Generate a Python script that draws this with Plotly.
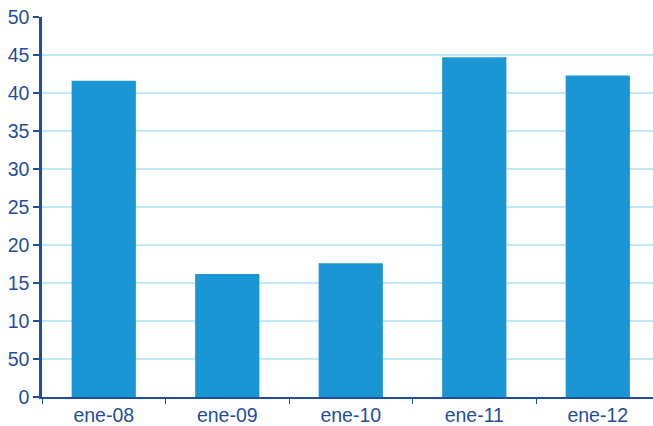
import plotly.graph_objects as go

categories = ["ene-08", "ene-09", "ene-10", "ene-11", "ene-12"]
values = [41.6, 16.2, 17.6, 44.7, 42.3]
ytick_vals = [0, 5, 10, 15, 20, 25, 30, 35, 40, 45, 50]
ytick_text = ["0", "50", "10", "15", "20", "25", "30", "35", "40", "45", "50"]

axis_color = "#1f4f9c"
font_family = "Liberation Sans, Arial, sans-serif"
fig = go.Figure(go.Bar(x=categories, y=values, marker=dict(color="#1b96d4", line=dict(width=0)), width=0.52))

fig.update_layout(
    width=653, height=426,
    margin=dict(l=42, r=0, t=17, b=29, pad=0),
    plot_bgcolor="white", paper_bgcolor="white",
    showlegend=False,
    font=dict(family=font_family, size=19.5, color=axis_color),
)
fig.update_xaxes(
    type="category", range=[-0.5, 4.447],
    showline=True, linecolor=axis_color, linewidth=2,
    ticks="outside", tickson="boundaries", ticklen=5, tickcolor=axis_color, tickwidth=1,
    showgrid=False, tickfont=dict(family=font_family, size=19.5, color=axis_color),
)
fig.update_yaxes(
    range=[0, 50], tickvals=ytick_vals, ticktext=ytick_text,
    showline=True, linecolor=axis_color, linewidth=2.5,
    ticks="outside", ticklen=6, tickcolor=axis_color, tickwidth=1.5,
    showgrid=True, gridcolor="#c0e8f8", gridwidth=1.5,
    zeroline=False, tickfont=dict(family=font_family, size=19.5, color=axis_color),
)
fig.write_html("out.html")
